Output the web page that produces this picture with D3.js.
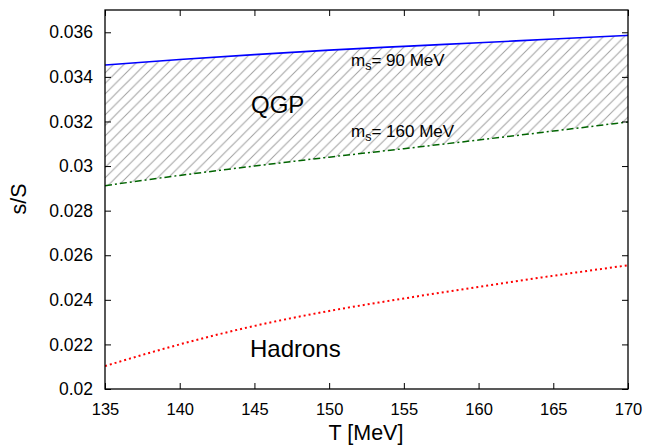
<!DOCTYPE html>
<html>
<head>
<meta charset="utf-8">
<script src="https://cdn.jsdelivr.net/npm/d3@7"></script>
<style>
  body { margin: 0; background: #fff; }
  text { font-family: "Liberation Sans", Arial, sans-serif; fill: #000; }
</style>
</head>
<body>
<div class="chart"></div>
<script>
// values
var temps = [135, 140, 145, 150, 155, 160, 165, 170];
var ms90 = [0.03453, 0.03478, 0.03500, 0.03520, 0.03537, 0.03553, 0.03570, 0.03586];
var ms160 = [0.02912, 0.02958, 0.03000, 0.03040, 0.03078, 0.03117, 0.03157, 0.03198];
var hadrons = [0.02103, 0.02200, 0.02283, 0.02350, 0.02406, 0.02458, 0.02508, 0.02555];
var xTicks = [135, 140, 145, 150, 155, 160, 165, 170];
var yTicks = [0.02, 0.022, 0.024, 0.026, 0.028, 0.03, 0.032, 0.034, 0.036];

const margin = ({ top: 10, right: 19, bottom: 56, left: 105 });
const width = 647 - margin.left - margin.right;
const height = 445 - margin.top - margin.bottom;

var svg = d3.select(".chart").append("svg")
    .attr("width", 647)
    .attr("height", 445);

var defs = svg.append("defs");
defs.append("clipPath").attr("id", "plotclip")
    .append("rect").attr("width", width).attr("height", height);

var pat = defs.append("pattern")
    .attr("id", "hatch")
    .attr("patternUnits", "userSpaceOnUse")
    .attr("width", 10.5).attr("height", 10.5);
pat.append("path")
    .attr("d", "M-1,1 l2,-2 M0,10.5 l10.5,-10.5 M9.5,11.5 l2,-2")
    .attr("stroke", "#a0a0a0")
    .attr("stroke-width", 1);

var x = d3.scaleLinear().domain([135, 170]).range([0, width]);
var y = d3.scaleLinear().domain([0.02, 0.037]).range([height, 0]);

var g = svg.append("g").attr("transform", `translate(${margin.left}, ${margin.top})`);
var plot = g.append("g").attr("clip-path", "url(#plotclip)");

var rows = temps.map((t, i) => ({ t: t, a: ms90[i], b: ms160[i], h: hadrons[i] }));

// QGP band
plot.append("path")
    .datum(rows)
    .attr("d", d3.area().curve(d3.curveMonotoneX)
        .x(d => x(d.t)).y0(d => y(d.b)).y1(d => y(d.a)))
    .attr("fill", "url(#hatch)");

function curve(key) {
    return d3.line().curve(d3.curveMonotoneX).x(d => x(d.t)).y(d => y(d[key]));
}

plot.append("path").datum(rows).attr("d", curve("a"))
    .attr("fill", "none").attr("stroke", "#0000ff").attr("stroke-width", 1.6);

plot.append("path").datum(rows).attr("d", curve("b"))
    .attr("fill", "none").attr("stroke", "#006400").attr("stroke-width", 1.5)
    .attr("stroke-dasharray", "7,3,2,3");

plot.append("path").datum(rows).attr("d", curve("h"))
    .attr("fill", "none").attr("stroke", "#ff0000").attr("stroke-width", 2)
    .attr("stroke-dasharray", "2,3");

// axes, ticks pointing inwards, mirrored on top/right
var xAxis = g.append("g").attr("transform", `translate(0,${height})`)
    .call(d3.axisBottom(x).tickValues(xTicks).tickSizeInner(-6).tickSizeOuter(0).tickPadding(14));
var xTop = g.append("g")
    .call(d3.axisTop(x).tickValues(xTicks).tickSizeInner(-6).tickSizeOuter(0).tickFormat(""));
var yAxis = g.append("g")
    .call(d3.axisLeft(y).tickValues(yTicks).tickSizeInner(-6).tickSizeOuter(0).tickPadding(12)
        .tickFormat(d => String(+d.toFixed(3))));
var yRight = g.append("g").attr("transform", `translate(${width},0)`)
    .call(d3.axisRight(y).tickValues(yTicks).tickSizeInner(-6).tickSizeOuter(0).tickFormat(""));

[xAxis, xTop, yAxis, yRight].forEach(a => {
    a.select(".domain").remove();
    a.selectAll("line").attr("stroke", "#000");
});
xAxis.selectAll("text").attr("font-size", 16.5).attr("font-family", "Liberation Sans, Arial, sans-serif");
yAxis.selectAll("text").attr("font-size", 17.5).attr("font-family", "Liberation Sans, Arial, sans-serif");

g.append("rect")
    .attr("width", width).attr("height", height)
    .attr("fill", "none").attr("stroke", "#000").attr("stroke-width", 1.3);

// labels
g.append("text").attr("x", 146).attr("y", 103).attr("font-size", 24).text("QGP");
g.append("text").attr("x", 145).attr("y", 347).attr("font-size", 24).text("Hadrons");

function msLabel(px, py, val) {
    var t = g.append("text").attr("x", px).attr("y", py).attr("font-size", 17);
    t.append("tspan").text("m");
    t.append("tspan").attr("font-size", 12.5).attr("dy", 4).text("s");
    t.append("tspan").attr("dy", -4).text("= " + val + " MeV");
}
msLabel(246, 56, 90);
msLabel(246, 127, 160);

svg.append("text")
    .attr("transform", "translate(26,199) rotate(-90)")
    .attr("text-anchor", "middle").attr("font-size", 21.5).text("s/S");
svg.append("text")
    .attr("x", 366).attr("y", 440)
    .attr("text-anchor", "middle").attr("font-size", 21.5).text("T [MeV]");
</script>
</body>
</html>
